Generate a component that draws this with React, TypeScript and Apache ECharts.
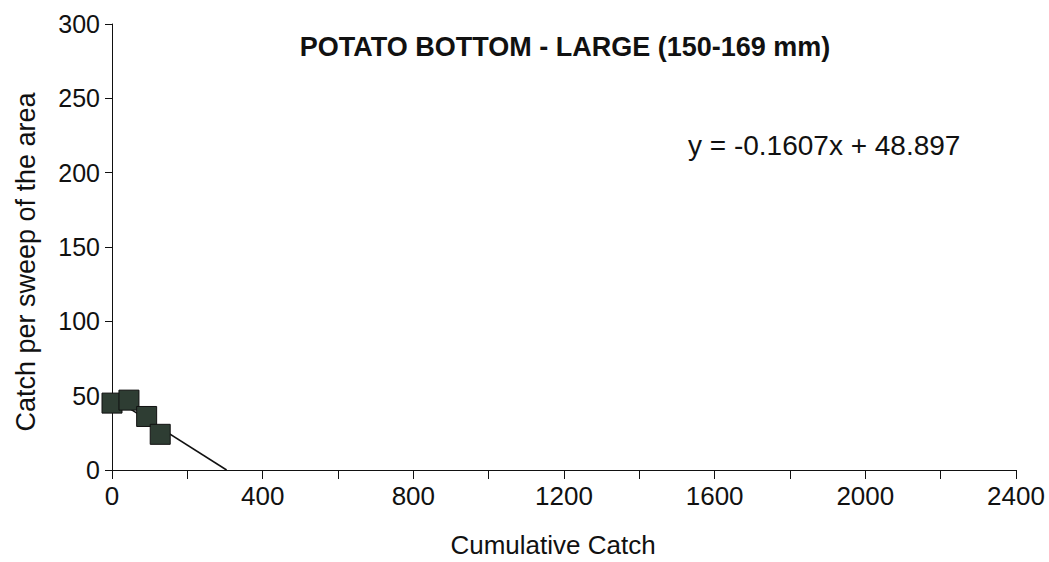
import React, { useEffect, useRef } from "react";
import * as echarts from "echarts";

// Removal-sampling data: cumulative catch before each sweep and catch in that sweep
const cumulativeCatch = [0, 45, 92, 128];
const catchPerSweep = [45, 47, 36, 24];

// Fitted regression line y = slope * x + intercept
const slope = -0.1607;
const intercept = 48.897;

const xTicks = [0, 400, 800, 1200, 1600, 2000, 2400];
const yTicks = [0, 50, 100, 150, 200, 250, 300];

const titleText = "POTATO BOTTOM - LARGE (150-169 mm)";
const xName = "Cumulative Catch";
const yName = "Catch per sweep of the area";

const FONT = "Liberation Sans, Arial, sans-serif";
const INK = "#111111";

export default function App() {
  const ref = useRef<HTMLDivElement>(null);

  useEffect(() => {
    if (!ref.current) return;
    const chart = echarts.init(ref.current, null, { renderer: "svg" });

    const points = cumulativeCatch.map((x, i) => [x, catchPerSweep[i]]);
    const xIntercept = -intercept / slope;
    const fitLine = [
      [0, intercept],
      [xIntercept, slope * xIntercept + intercept],
    ];

    chart.setOption({
      animation: false,
      backgroundColor: "#ffffff",
      textStyle: { fontFamily: FONT, color: INK },
      grid: { left: 112, right: 33, top: 24, bottom: 92, containLabel: false },
      xAxis: {
        type: "value",
        min: xTicks[0],
        max: xTicks[xTicks.length - 1],
        interval: 200,
        axisLine: { show: true, lineStyle: { color: INK, width: 1 } },
        axisTick: { show: true, inside: false, length: 9, lineStyle: { color: INK } },
        axisLabel: {
          color: INK,
          fontSize: 26,
          fontFamily: FONT,
          margin: 13,
          formatter: (v: number) => (xTicks.includes(v) ? String(v) : ""),
        },
        splitLine: { show: false },
      },
      yAxis: {
        type: "value",
        min: yTicks[0],
        max: yTicks[yTicks.length - 1],
        interval: 50,
        axisLine: { show: true, lineStyle: { color: INK, width: 1 } },
        axisTick: { show: true, inside: false, length: 7, lineStyle: { color: INK } },
        axisLabel: { color: INK, fontSize: 25, fontFamily: FONT, margin: 12 },
        splitLine: { show: false },
      },
      graphic: [
        {
          type: "text",
          x: 565,
          y: 47,
          style: {
            text: titleText,
            font: `bold 27px ${FONT}`,
            fill: INK,
            textAlign: "center",
            textVerticalAlign: "middle",
          },
        },
        {
          type: "text",
          x: 688,
          y: 145,
          style: {
            text: `y = ${slope}x + ${intercept}`,
            font: `28px ${FONT}`,
            fill: INK,
            textAlign: "left",
            textVerticalAlign: "middle",
          },
        },
        {
          type: "text",
          x: 553,
          y: 545,
          style: {
            text: xName,
            font: `26px ${FONT}`,
            fill: INK,
            textAlign: "center",
            textVerticalAlign: "middle",
          },
        },
        {
          type: "text",
          x: 26,
          y: 262,
          rotation: Math.PI / 2,
          style: {
            text: yName,
            font: `27px ${FONT}`,
            fill: INK,
            textAlign: "center",
            textVerticalAlign: "middle",
          },
        },
      ],
      series: [
        {
          type: "line",
          data: fitLine,
          symbol: "none",
          lineStyle: { color: INK, width: 1.5 },
          z: 2,
        },
        {
          type: "scatter",
          data: points,
          symbol: "rect",
          symbolSize: 20,
          itemStyle: { color: "#2e3d33", borderColor: "#111111", borderWidth: 1, opacity: 1 },
          z: 3,
        },
      ],
    });

    return () => chart.dispose();
  }, []);

  return (
    <div
      ref={ref}
      style={{ position: "fixed", left: 0, top: 0, width: 1049, height: 562, background: "#fff" }}
    />
  );
}
